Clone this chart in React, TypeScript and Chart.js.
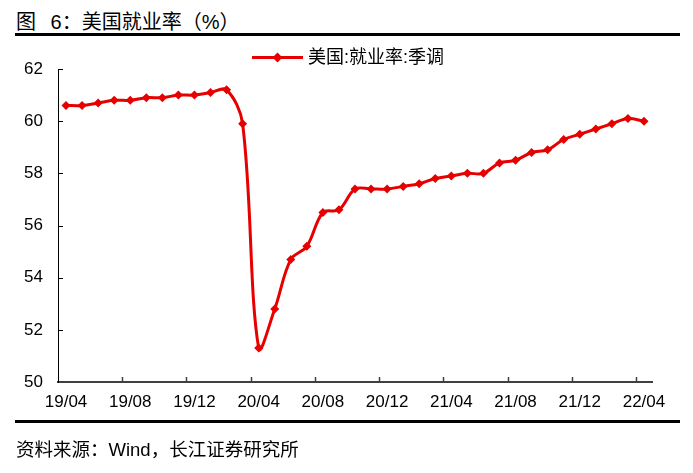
import React, { useEffect, useRef } from "react";
import { Chart, registerables } from "chart.js";

Chart.register(...registerables);

const months: string[] = [
  "19/04", "19/05", "19/06", "19/07", "19/08", "19/09", "19/10", "19/11", "19/12",
  "20/01", "20/02", "20/03", "20/04", "20/05", "20/06", "20/07", "20/08", "20/09",
  "20/10", "20/11", "20/12", "21/01", "21/02", "21/03", "21/04", "21/05", "21/06",
  "21/07", "21/08", "21/09", "21/10", "21/11", "21/12", "22/01", "22/02", "22/03", "22/04",
];

const employmentRate: number[] = [
  60.6, 60.6, 60.7, 60.8, 60.8, 60.9, 60.9, 61.0, 61.0,
  61.1, 61.2, 59.9, 51.3, 52.8, 54.7, 55.2, 56.5, 56.6,
  57.4, 57.4, 57.4, 57.5, 57.6, 57.8, 57.9, 58.0, 58.0,
  58.4, 58.5, 58.8, 58.9, 59.3, 59.5, 59.7, 59.9, 60.1, 60.0,
];

const seriesName = "美国:就业率:季调";
const titleText = "图 6：美国就业率（%）";
const sourceText = "资料来源：Wind，长江证券研究所";
const yMin = 50;
const yMax = 62;
const yStep = 2;
const labelEvery = 4;

const RED = "#E60000";
const FONT = "'Liberation Sans', Arial, 'Noto Sans CJK SC', sans-serif";

const inwardTicks = {
  id: "inwardTicks",
  afterDraw(chart: any) {
    const { ctx, scales } = chart;
    const x = scales.x;
    const y = scales.y;
    ctx.save();
    ctx.lineWidth = 1.5;
    ctx.strokeStyle = "#404040";
    const half = (x.getPixelForValue(1) - x.getPixelForValue(0)) / 2;
    for (let i = labelEvery; i < months.length; i += labelEvery) {
      const px = Math.round(x.getPixelForValue(i) - half) + 0.5;
      ctx.beginPath();
      ctx.moveTo(px, y.bottom);
      ctx.lineTo(px, y.bottom - 5);
      ctx.stroke();
    }
    ctx.lineWidth = 1;
    ctx.strokeStyle = "#000";
    for (let v = yMin + yStep; v <= yMax; v += yStep) {
      const py = Math.round(y.getPixelForValue(v)) + 0.5;
      ctx.beginPath();
      ctx.moveTo(x.left, py);
      ctx.lineTo(x.left + 5, py);
      ctx.stroke();
    }
    ctx.restore();
  },
};

export default function App() {
  const ref = useRef<HTMLCanvasElement | null>(null);

  useEffect(() => {
    if (!ref.current) return;
    const chart = new Chart(ref.current, {
      type: "line",
      data: {
        labels: months,
        datasets: [
          {
            label: seriesName,
            data: employmentRate,
            borderColor: RED,
            backgroundColor: RED,
            borderWidth: 3,
            pointStyle: "rectRot",
            pointRadius: 4.5,
            pointBorderWidth: 0,
            pointBackgroundColor: RED,
            tension: 0.35,
          },
        ],
      },
      options: {
        animation: false,
        responsive: false,
        devicePixelRatio: 1,
        layout: { padding: { left: 0, top: 69, right: 41, bottom: 61 } },
        plugins: { legend: { display: false }, tooltip: { enabled: false } },
        scales: {
          x: {
            type: "category",
            offset: true,
            grid: { display: false, drawTicks: false, offset: true },
            border: { display: true, color: "#404040", width: 2 },
            ticks: {
              autoSkip: false,
              maxRotation: 0,
              padding: 10,
              color: "#000",
              font: { family: FONT, size: 17 },
              callback: (_v: any, i: number) => (i % labelEvery === 0 ? months[i] : ""),
            },
            afterFit: (s: any) => {
              s.height = 30;
            },
          },
          y: {
            min: yMin,
            max: yMax,
            grid: { display: false, drawTicks: false },
            border: { display: true, color: "#000", width: 1 },
            ticks: {
              stepSize: yStep,
              padding: 15,
              color: "#000",
              font: { family: FONT, size: 17 },
            },
            afterFit: (s: any) => {
              s.width = 58;
            },
          },
        },
      },
      plugins: [inwardTicks],
    });
    return () => chart.destroy();
  }, []);

  return (
    <div
      style={{
        position: "absolute",
        left: 0,
        top: 0,
        width: 693,
        height: 473,
        background: "#fff",
        fontFamily: FONT,
        overflow: "hidden",
      }}
    >
      <div
        style={{
          position: "absolute",
          left: 16,
          top: 10,
          fontSize: 20,
          lineHeight: "24px",
          color: "#000",
          whiteSpace: "pre",
          wordSpacing: 9,
        }}
      >
        {titleText}
      </div>
      <div style={{ position: "absolute", left: 15, top: 33, width: 665, height: 3, background: "#000" }} />
      <canvas
        ref={ref}
        width={693}
        height={473}
        style={{ position: "absolute", left: 0, top: 0, width: 693, height: 473 }}
      />
      <div style={{ position: "absolute", left: 252, top: 56, width: 51, height: 3, background: RED }} />
      <div
        style={{
          position: "absolute",
          left: 274,
          top: 53.5,
          width: 7,
          height: 7,
          background: RED,
          transform: "rotate(45deg)",
        }}
      />
      <div
        style={{
          position: "absolute",
          left: 308,
          top: 46,
          fontSize: 18,
          lineHeight: "22px",
          color: "#000",
          whiteSpace: "nowrap",
        }}
      >
        {seriesName}
      </div>
      <div style={{ position: "absolute", left: 15, top: 420, width: 665, height: 3, background: "#000" }} />
      <div
        style={{
          position: "absolute",
          left: 16,
          top: 439,
          fontSize: 18.5,
          lineHeight: "22px",
          color: "#000",
          whiteSpace: "nowrap",
        }}
      >
        {sourceText}
      </div>
    </div>
  );
}
